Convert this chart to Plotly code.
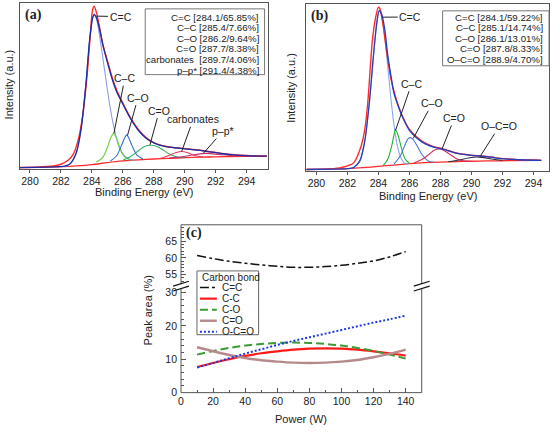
import plotly.graph_objects as go

W, H = 553, 432
def px(x): return x / W
def py(y): return 1 - y / H

FONT = "Liberation Sans, Arial, sans-serif"
SERIF = "Liberation Serif, Times New Roman, serif"
AX = "#555555"
TXT = "#222222"

# ---------------- Panel (a) data (arbitrary intensity units) ----------------
bg_a_e = [279.35, 281.0, 282.0, 283.0, 284.0, 285.0, 286.0, 287.0, 288.0, 289.0, 290.0, 291.0, 292.0, 293.0, 295.3]
bg_a_i = [0.8, 1.0, 1.3, 1.8, 2.6, 3.8, 4.8, 5.5, 6.0, 6.4, 6.8, 7.1, 7.3, 7.5, 7.8]

meas_a_e = [279.35, 280.5, 281.5, 282.0, 282.5, 282.8, 283.1, 283.4, 283.7, 283.9, 284.05, 284.15, 284.3, 284.5, 284.7,
            285.0, 285.3, 285.6, 286.0, 286.5, 287.0, 287.5, 288.0, 288.5, 289.0, 289.5, 290.0, 290.5, 291.0, 291.5,
            292.0, 292.5, 293.0, 294.0, 295.3]
meas_a_i = [0.8, 1.0, 1.7, 2.8, 5.5, 9, 17, 32, 58, 82, 97, 99, 95, 86, 76,
            66, 56, 48, 40, 31, 24, 19, 16, 14.3, 13.3, 12.8, 12.3, 11.8, 11.3, 10.6,
            10.0, 9.3, 8.8, 8.1, 7.7]

fit_a_e = [279.35, 281.0, 282.0, 282.3, 282.6, 283.0, 283.3, 283.6, 283.85, 284.05, 284.15, 284.3, 284.5, 284.7,
           285.0, 285.3, 285.6, 286.0, 286.5, 287.0, 287.5, 288.0, 288.5, 289.0, 289.5, 290.0, 290.5, 291.0, 291.5,
           292.0, 292.5, 293.0, 294.0, 295.3]
fit_a_i = [0.8, 1.0, 1.3, 1.8, 3.2, 10, 24, 50, 78, 92, 94, 92, 85, 76,
           65, 55, 47, 39.5, 30.5, 23.5, 18.7, 15.8, 14.1, 13.2, 12.7, 12.2, 11.7, 11.2, 10.5,
           9.9, 9.2, 8.7, 8.0, 7.7]

cc2_a_e = [282.2, 282.6, 283.0, 283.3, 283.6, 283.85, 284.05, 284.15, 284.3, 284.5, 284.7, 284.9, 285.1, 285.3, 285.5, 285.7, 286.0, 286.4, 286.8]
cc2_a_i = [1.3, 3.0, 10, 24, 50, 78, 92, 94, 91, 81, 68, 55, 42, 31, 22, 15, 9, 6, 5.2]

cc1_a_e = [284.3, 284.7, 285.0, 285.2, 285.4, 285.6, 285.8, 286.1, 286.5]
cc1_a_i = [4.0, 7.0, 13, 18.5, 21.7, 18.5, 13, 7.5, 5.2]

co_a_e = [285.2, 285.6, 285.9, 286.1, 286.25, 286.4, 286.6, 286.9, 287.3]
co_a_i = [4.8, 8.0, 14, 18.5, 20.7, 18.5, 14, 8.5, 6.0]

cdo_a_e = [286.0, 286.5, 287.0, 287.4, 287.8, 288.2, 288.6, 289.0, 289.5, 290.0]
cdo_a_i = [5.3, 7.5, 11, 13.6, 14.4, 13.6, 11.5, 9.0, 7.2, 6.8]

carb_a_e = [288.4, 288.9, 289.4, 289.8, 290.2, 290.7, 291.2]
carb_a_i = [6.3, 7.8, 9.8, 10.6, 9.8, 8.0, 7.2]

pp_a_e = [289.0, 289.8, 290.6, 291.4, 292.2, 293.0, 294.0, 295.3]
pp_a_i = [6.6, 7.3, 8.6, 9.4, 8.8, 8.1, 7.8, 7.7]

legend_a = ["C=C [284.1/65.85%]", "C–C [285.4/7.66%]", "C–O [286.2/9.64%]",
            "C=O [287.7/8.38%]", "carbonates\u00a0\u00a0[289.7/4.06%]", "p–p* [291.4/4.38%]"]
labels_a = ["C=C", "C–C", "C–O", "C=O", "carbonates", "p–p*"]
lab_a_target = [(284.3, 93), (285.42, 21.5), (286.3, 20.3), (287.75, 14.6), (289.8, 10.6), (291.2, 9.4)]
lab_a_text = [(285.85, 92.7), (286.13, 55.2), (286.98, 43.4), (288.36, 35.5), (290.55, 30.2), (292.47, 23)]

# ---------------- Panel (b) data ----------------
bg_b_e = [279.35, 281.0, 282.0, 283.0, 284.0, 285.0, 286.0, 287.0, 288.0, 289.0, 290.0, 291.0, 292.0, 294.5]
bg_b_i = [0.8, 1.0, 1.3, 1.9, 2.7, 3.5, 4.3, 4.9, 5.3, 5.6, 5.8, 6.0, 6.1, 6.3]

meas_b_e = [279.35, 280.5, 281.5, 282.0, 282.4, 282.85, 283.1, 283.3, 283.6, 283.8, 284.0, 284.1, 284.3, 284.5, 284.8,
            285.0, 285.3, 285.6, 286.0, 286.4, 286.8, 287.2, 287.6, 288.0, 288.5, 289.0, 289.5, 290.0, 290.8, 291.5,
            292.2, 293.0, 294.0, 294.5]
meas_b_i = [0.8, 1.0, 1.8, 3.0, 4.8, 14, 24, 40, 78, 92, 99, 98, 88, 74, 56,
            48, 39, 32, 25, 21, 18, 16, 14.5, 13.7, 12.3, 10.8, 10.0, 9.4, 8.8, 8.0,
            7.3, 6.8, 6.5, 6.3]

fit_b_e = [279.35, 281.0, 282.0, 282.4, 282.8, 283.1, 283.4, 283.7, 283.9, 284.05, 284.2, 284.4, 284.6, 284.85,
           285.0, 285.3, 285.6, 286.0, 286.4, 286.8, 287.2, 287.6, 288.0, 288.5, 289.0, 289.5, 290.0, 290.8, 291.5,
           292.2, 293.0, 294.0, 294.5]
fit_b_i = [0.8, 1.0, 1.3, 2.0, 6.0, 17, 40, 72, 90, 97, 95, 86, 70, 55,
           47, 38.5, 31.5, 24.5, 20.5, 17.5, 15.5, 14.2, 13.4, 12.1, 10.7, 9.9, 9.3, 8.7, 7.9,
           7.2, 6.7, 6.4, 6.3]

cc2_b_e = [282.4, 282.8, 283.1, 283.4, 283.7, 283.9, 284.05, 284.2, 284.4, 284.6, 284.8, 285.0, 285.2, 285.4, 285.7, 286.0]
cc2_b_i = [2.0, 6.0, 17, 40, 72, 90, 97, 94, 82, 63, 44, 28, 16, 9, 4.5, 4.3]

cc1_b_e = [284.3, 284.6, 284.85, 285.0, 285.1, 285.25, 285.45, 285.7, 286.0]
cc1_b_i = [3.2, 7.0, 15, 21.5, 25, 22, 15, 7.5, 4.5]

co_b_e = [285.0, 285.4, 285.7, 285.9, 286.05, 286.2, 286.5, 286.8, 287.2, 287.6]
co_b_i = [4.0, 9.0, 15.5, 19.3, 20.1, 19.3, 15, 10, 6.0, 5.2]

cdo_b_e = [286.3, 286.8, 287.2, 287.6, 287.9, 288.2, 288.6, 289.0, 289.5, 290.0]
cdo_b_i = [4.9, 6.8, 9.5, 12.5, 13.2, 12.5, 10, 7.5, 6.0, 5.8]

oco_b_e = [288.5, 289.2, 289.8, 290.3, 290.8, 291.4, 292.0]
oco_b_i = [5.5, 6.5, 7.8, 8.4, 8.0, 7.0, 6.4]

legend_b = ["C=C [284.1/59.22%]", "C–C [285.1/14.74%]", "C–O [286.1/13.01%]",
            "C=O [287.8/8.33%]", "O–C=O [288.9/4.70%]"]
labels_b = ["C=C", "C–C", "C–O", "C=O", "O–C=O"]
lab_b_target = [(284.25, 93), (285.1, 24.5), (286.25, 19.7), (288.1, 13.2), (290.55, 8.6)]
lab_b_text = [(286.05, 93.1), (286.14, 52.7), (287.47, 40.8), (288.9, 32), (291.8, 27)]

# ---------------- Panel (c) data ----------------
power = [10, 20, 30, 40, 50, 60, 70, 80, 90, 100, 110, 120, 130, 140]
area_CdC = [60.7, 59.8, 59.0, 58.4, 57.9, 57.5, 57.2, 57.2, 57.4, 57.8, 58.4, 59.1, 60.3, 61.9]
area_CC = [7.7, 8.9, 10.0, 11.0, 11.8, 12.4, 12.9, 13.2, 13.3, 13.2, 12.9, 12.4, 11.8, 11.1]
area_CO = [11.4, 12.5, 13.4, 14.1, 14.6, 14.9, 15.0, 14.9, 14.6, 14.1, 13.4, 12.5, 11.4, 10.2]
area_CdO = [13.6, 12.4, 11.3, 10.4, 9.7, 9.3, 9.0, 8.9, 9.0, 9.3, 9.8, 10.6, 11.6, 12.9]
area_OCO = [7.5, 8.9, 10.3, 11.7, 13.0, 14.3, 15.5, 16.6, 17.7, 18.8, 19.9, 21.0, 22.0, 23.1]
bond_names = ["C=C", "C-C", "C-O", "C=O", "O-C=O"]

fig = go.Figure()

def spec(x, y, color, width, xa, ya):
    fig.add_trace(go.Scatter(x=x, y=y, mode="lines", line=dict(color=color, width=width, shape="spline", smoothing=0.8),
                             xaxis=xa, yaxis=ya, showlegend=False, hoverinfo="skip"))

# (a)
spec(bg_a_e, bg_a_i, "#ff2a2a", 1.3, "x", "y")
spec(cc2_a_e, cc2_a_i, "#8f9ce6", 1.1, "x", "y")
spec(cc1_a_e, cc1_a_i, "#66d040", 1.1, "x", "y")
spec(co_a_e, co_a_i, "#3470c6", 1.1, "x", "y")
spec(cdo_a_e, cdo_a_i, "#2fb068", 1.1, "x", "y")
spec(carb_a_e, carb_a_i, "#e43a5c", 1.1, "x", "y")
spec(pp_a_e, pp_a_i, "#c83070", 1.1, "x", "y")
spec(meas_a_e, meas_a_i, "#ff2a2a", 1.4, "x", "y")
spec(fit_a_e, fit_a_i, "#1a2ea8", 1.3, "x", "y")

# (b)
spec(bg_b_e, bg_b_i, "#ff2a2a", 1.3, "x2", "y2")
spec(cc2_b_e, cc2_b_i, "#86aaf0", 1.1, "x2", "y2")
spec(cc1_b_e, cc1_b_i, "#22b030", 1.1, "x2", "y2")
spec(co_b_e, co_b_i, "#4a78d8", 1.1, "x2", "y2")
spec(cdo_b_e, cdo_b_i, "#d43060", 1.1, "x2", "y2")
spec(oco_b_e, oco_b_i, "#2a2a40", 1.1, "x2", "y2")
spec(meas_b_e, meas_b_i, "#ff2a2a", 1.4, "x2", "y2")
spec(fit_b_e, fit_b_i, "#2040c0", 1.3, "x2", "y2")

# (c)
styles = [("#111111", 1.5, "9px,3px,3px,3px"), ("#ff1a1a", 2.2, "solid"), ("#3c9a32", 2.0, "8px,4px"),
          ("#b48a8c", 2.4, "solid"), ("#2038e0", 2.0, "2px,2px")]
series_c = [area_CdC, area_CC, area_CO, area_CdO, area_OCO]
for i, (name, vals) in enumerate(zip(bond_names, series_c)):
    col, wd, dash = styles[i]
    fig.add_trace(go.Scatter(x=power, y=vals, mode="lines", name=name,
                             line=dict(color=col, width=wd, dash=dash, shape="spline"),
                             xaxis="x3", yaxis="y4" if i == 0 else "y3", showlegend=False))

tickfont = dict(family=FONT, size=10.5, color=TXT)
common_x = dict(showgrid=False, zeroline=False, showline=True, mirror=True, linecolor=AX, linewidth=1,
                ticks="outside", ticklen=3, tickcolor=AX, tickvals=list(range(280, 296, 2)), tickfont=tickfont)
common_y = dict(showgrid=False, zeroline=False, showline=True, mirror=True, linecolor=AX, linewidth=1,
                showticklabels=False, ticks="", range=[0, 101])

fig.update_layout(
    width=W, height=H, margin=dict(l=0, r=0, t=0, b=0),
    paper_bgcolor="white", plot_bgcolor="white", showlegend=False,
    font=dict(family=FONT, size=10.5, color=TXT),
    xaxis=dict(domain=[px(17), px(266)], range=[279.35, 295.35], anchor="y", **common_x),
    yaxis=dict(domain=[py(170), py(1)], anchor="x", **common_y),
    xaxis2=dict(domain=[px(305), px(549)], range=[279.35, 295.0], anchor="y2", **common_x),
    yaxis2=dict(domain=[py(172), py(2)], anchor="x2", **common_y),
    xaxis3=dict(domain=[px(179), px(421)], range=[0, 150], anchor="y3", showgrid=False, zeroline=False,
                showline=False, ticks="inside", ticklen=5, tickcolor=AX, tickvals=list(range(0, 150, 20)),
                tickfont=tickfont, ticklabelstandoff=1,
                minor=dict(ticks="inside", ticklen=3, dtick=10, tick0=0, tickcolor=AX)),
    yaxis3=dict(domain=[py(398), py(292)], range=[0, 31.2], anchor="x3", showgrid=False, zeroline=False,
                showline=False, ticks="inside", ticklen=5, tickcolor=AX, tickvals=[0, 10, 20, 30],
                tickfont=tickfont, ticklabelstandoff=3,
                minor=dict(ticks="inside", ticklen=3, dtick=2, tick0=0, tickcolor=AX)),
    yaxis4=dict(domain=[py(287), py(227)], range=[52.3, 69.9], anchor="x3", showgrid=False, zeroline=False,
                showline=False, ticks="inside", ticklen=5, tickcolor=AX, tickvals=[55, 60, 65],
                tickfont=tickfont, ticklabelstandoff=3,
                minor=dict(ticks="inside", ticklen=3, dtick=1, tick0=50, tickcolor=AX)),
)

ann = []
shapes = []

def paper_text(x, y, text, size=10.5, anchor="center", family=FONT, angle=0, bold=False):
    t = "<b>" + text + "</b>" if bold else text
    ann.append(dict(x=px(x), y=py(y), xref="paper", yref="paper", text=t, showarrow=False,
                    xanchor=anchor, yanchor="middle", textangle=angle,
                    font=dict(family=family, size=size, color=TXT)))

# axis titles
paper_text(141.5, 194, "Binding Energy (eV)", 11)
paper_text(427, 198, "Binding Energy (eV)", 11)
paper_text(6, 84, "Intensity (a.u.)", 11, angle=-90)
paper_text(290, 87, "Intensity (a.u.)", 11, angle=-90)
paper_text(300, 425, "Power (W)", 11)
paper_text(146, 314, "Peak area (%)", 11, angle=-90)

# panel letters
paper_text(31, 13, "(a)", 14, family=SERIF, bold=True)
paper_text(318, 14, "(b)", 14, family=SERIF, bold=True)
paper_text(192.5, 235, "(c)", 14, family=SERIF, bold=True)

# fit-result boxes (a), (b)
shapes.append(dict(type="rect", xref="paper", yref="paper", x0=px(143), x1=px(263), y0=py(74), y1=py(7),
                   line=dict(color="#777777", width=1), fillcolor="white", layer="above"))
for i, t in enumerate(legend_a):
    paper_text(259, 15.3 + 10.8 * i, t, 9.7, anchor="right")
shapes.append(dict(type="rect", xref="paper", yref="paper", x0=px(442), x1=px(549), y0=py(65), y1=py(9),
                   line=dict(color="#777777", width=1), fillcolor="white", layer="above"))
for i, t in enumerate(legend_b):
    paper_text(545, 15.3 + 10.8 * i, t, 9.7, anchor="right")

# peak labels with leader lines
def peak_labels(labels, targets, texts, xr, yr):
    for lab, (tx, ty), (lx, ly) in zip(labels, targets, texts):
        ann.append(dict(x=tx, y=ty, xref=xr, yref=yr, ax=lx, ay=ly, axref=xr, ayref=yr,
                        text=lab, showarrow=True, arrowhead=0, arrowwidth=1, arrowcolor="#222222",
                        standoff=0, font=dict(family=FONT, size=10.5, color=TXT)))

peak_labels(labels_a, lab_a_target, lab_a_text, "x", "y")
peak_labels(labels_b, lab_b_target, lab_b_text, "x2", "y2")

# panel (c) frame with axis break
def seg(x0, y0, x1, y1, color=AX, width=1):
    shapes.append(dict(type="line", xref="paper", yref="paper", x0=px(x0), y0=py(y0), x1=px(x1), y1=py(y1),
                       line=dict(color=color, width=width)))

seg(179, 398, 421, 398)
seg(179, 227, 421, 227)
seg(179, 398, 179, 292)
seg(179, 287, 179, 227)
seg(421, 398, 421, 292)
seg(421, 287, 421, 227)
for xc in (179, 421):
    seg(xc - 8, 294.5, xc + 8, 289.5, "#111111", 1.2)
    seg(xc - 8, 289.5, xc + 8, 284.5, "#111111", 1.2)

# panel (c) legend
shapes.append(dict(type="rect", xref="paper", yref="paper", x0=px(195), x1=px(257), y0=py(339), y1=py(274),
                   line=dict(color="#666666", width=1), fillcolor="white", layer="above"))
paper_text(198, 280.5, "Carbon bond", 10, anchor="left")
for i, name in enumerate(bond_names):
    col, wd, dash = styles[i]
    yy = 291 + 11.25 * i
    shapes.append(dict(type="line", xref="paper", yref="paper", x0=px(198), x1=px(215), y0=py(yy), y1=py(yy),
                       line=dict(color=col, width=wd, dash=dash)))
    paper_text(218, yy, name, 10, anchor="left")

fig.update_layout(annotations=ann, shapes=shapes)
fig.write_html("out.html", config={"displayModeBar": False},
               post_script="document.body.style.margin='0';document.body.style.overflow='hidden';")
